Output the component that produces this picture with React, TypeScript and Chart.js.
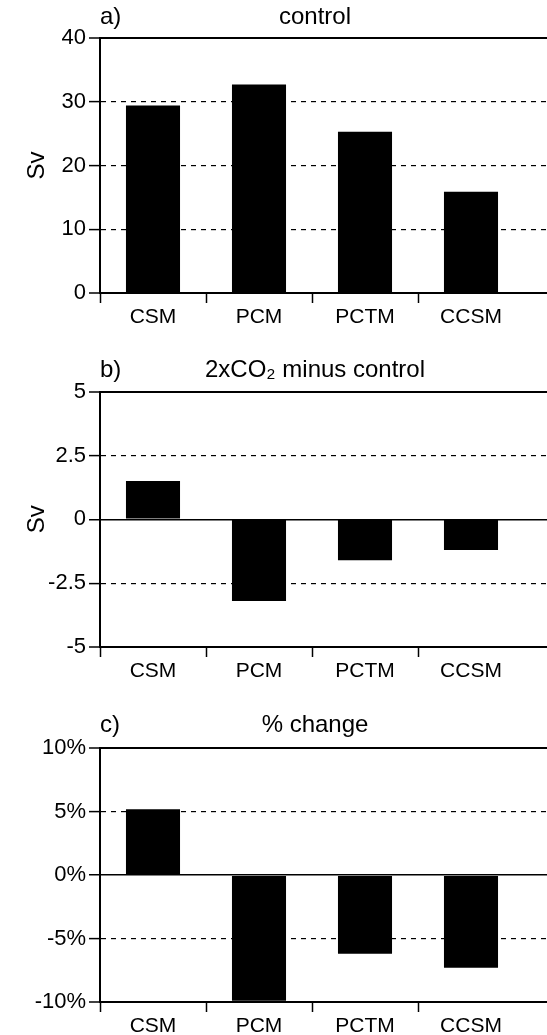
import React, { useEffect, useRef } from "react";
import { Chart, registerables } from "chart.js";

Chart.register(...registerables);

// ---- data ----
const categories = ["CSM", "PCM", "PCTM", "CCSM"];
const controlValues = [29.4, 32.7, 25.3, 15.9];
const diffValues = [1.5, -3.2, -1.6, -1.2];
const pctValues = [5.2, -9.9, -6.2, -7.3];
const controlTicks = [0, 10, 20, 30, 40];
const diffTicks = [-5, -2.5, 0, 2.5, 5];
const pctTicks = [-10, -5, 0, 5, 10];

const FONT = "'Liberation Sans', Arial, Helvetica, sans-serif";
const CANVAS_W = 630;

const panelLetterPlugin: any = {
  id: "panelLetter",
  afterDraw(chart: any, _args: any, opts: any) {
    const tb = chart.titleBlock;
    if (!tb || !opts || !opts.text) return;
    const size = opts.size || 24;
    const padTop = tb._padding ? tb._padding.top : 0;
    const y = tb.top + padTop + (size * 1.2) / 2;
    const ctx = chart.ctx;
    ctx.save();
    ctx.font = `${size}px ${FONT}`;
    ctx.fillStyle = "#000";
    ctx.textAlign = "left";
    ctx.textBaseline = "middle";
    ctx.fillText(opts.text, chart.chartArea.left, y);
    ctx.restore();
  },
};

type PanelProps = {
  letter: string;
  title: string;
  values: number[];
  ticks: number[];
  fmt: (v: number) => string;
  yTitle: string;
  height: number;
  titlePad: { top: number; bottom: number };
};

function Panel(p: PanelProps) {
  const ref = useRef<HTMLCanvasElement>(null);
  useEffect(() => {
    const min = p.ticks[0];
    const max = p.ticks[p.ticks.length - 1];
    const chart = new Chart(ref.current as HTMLCanvasElement, {
      type: "bar",
      data: {
        labels: [...categories, ""],
        datasets: [
          {
            data: p.values,
            backgroundColor: "#000",
            borderWidth: 0,
            barPercentage: 1,
            categoryPercentage: 0.51,
          },
        ],
      },
      options: {
        responsive: false,
        animation: false,
        layout: { padding: 0 },
        plugins: {
          legend: { display: false },
          tooltip: { enabled: false },
          title: {
            display: true,
            text: p.title,
            color: "#000",
            font: { family: FONT, size: 24, weight: "normal" as any },
            padding: p.titlePad,
          },
          panelLetter: { text: p.letter, size: 24 },
        } as any,
        scales: {
          x: {
            type: "category",
            offset: true,
            grid: {
              offset: true,
              drawOnChartArea: false,
              drawTicks: true,
              tickLength: 10,
              tickWidth: 1.5,
              tickColor: (c: any) =>
                c.type === "tick" && c.index < categories.length ? "#000" : "rgba(0,0,0,0)",
            },
            border: { display: true, color: "#000", width: 2 },
            ticks: {
              color: "#000",
              font: { family: FONT, size: 21 },
              padding: 2,
              maxRotation: 0,
              autoSkip: false,
            },
            afterFit: (s: any) => {
              s.height = 39;
            },
          },
          y: {
            min,
            max,
            afterBuildTicks: (s: any) => {
              s.ticks = p.ticks.map((v) => ({ value: v }));
            },
            grid: {
              color: "#000",
              lineWidth: (c: any) => {
                if (c.type !== "tick") return 1.2;
                const v = c.tick.value;
                if (v === max || v === min) return 2;
                if (v === 0) return 1.5;
                return 1.2;
              },
              drawTicks: true,
              tickLength: 11,
              tickWidth: 1.5,
              tickColor: "#000",
            },
            border: {
              display: true,
              color: "#000",
              width: 2,
              dash: (c: any) => {
                if (c.type !== "tick" || !c.tick) return [];
                const v = c.tick.value;
                return v === 0 || v === min || v === max ? [] : [5, 5];
              },
            } as any,
            ticks: {
              color: "#000",
              font: { family: FONT, size: 22 },
              padding: 3,
              callback: (v: any) => p.fmt(Number(v)),
            },
            title: {
              display: !!p.yTitle,
              text: p.yTitle,
              color: "#000",
              font: { family: FONT, size: 24 },
              padding: { top: 22.6, bottom: 0 },
            },
            afterFit: (s: any) => {
              s.width = 100;
            },
          },
        },
      },
      plugins: [panelLetterPlugin],
    });
    return () => chart.destroy();
  }, []);
  return (
    <canvas
      ref={ref}
      width={CANVAS_W}
      height={p.height}
      style={{ display: "block", width: CANVAS_W, height: p.height }}
    />
  );
}

const panels: PanelProps[] = [
  {
    letter: "a)",
    title: "control",
    values: controlValues,
    ticks: controlTicks,
    fmt: (v) => String(v),
    yTitle: "Sv",
    height: 332,
    titlePad: { top: 2.6, bottom: 6.6 },
  },
  {
    letter: "b)",
    title: "2xCO\u2082 minus control",
    values: diffValues,
    ticks: diffTicks,
    fmt: (v) => String(v),
    yTitle: "Sv",
    height: 354,
    titlePad: { top: 23.6, bottom: 7.3 },
  },
  {
    letter: "c)",
    title: "% change",
    values: pctValues,
    ticks: pctTicks,
    fmt: (v) => `${v}%`,
    yTitle: "",
    height: 355,
    titlePad: { top: 24.6, bottom: 8.9 },
  },
];

export default function App() {
  return (
    <div style={{ width: 547, height: 1035, overflow: "hidden", background: "#fff" }}>
      <style>{"body{margin:0;overflow:hidden;background:#fff}"}</style>
      {panels.map((p) => (
        <Panel key={p.letter} {...p} />
      ))}
    </div>
  );
}
